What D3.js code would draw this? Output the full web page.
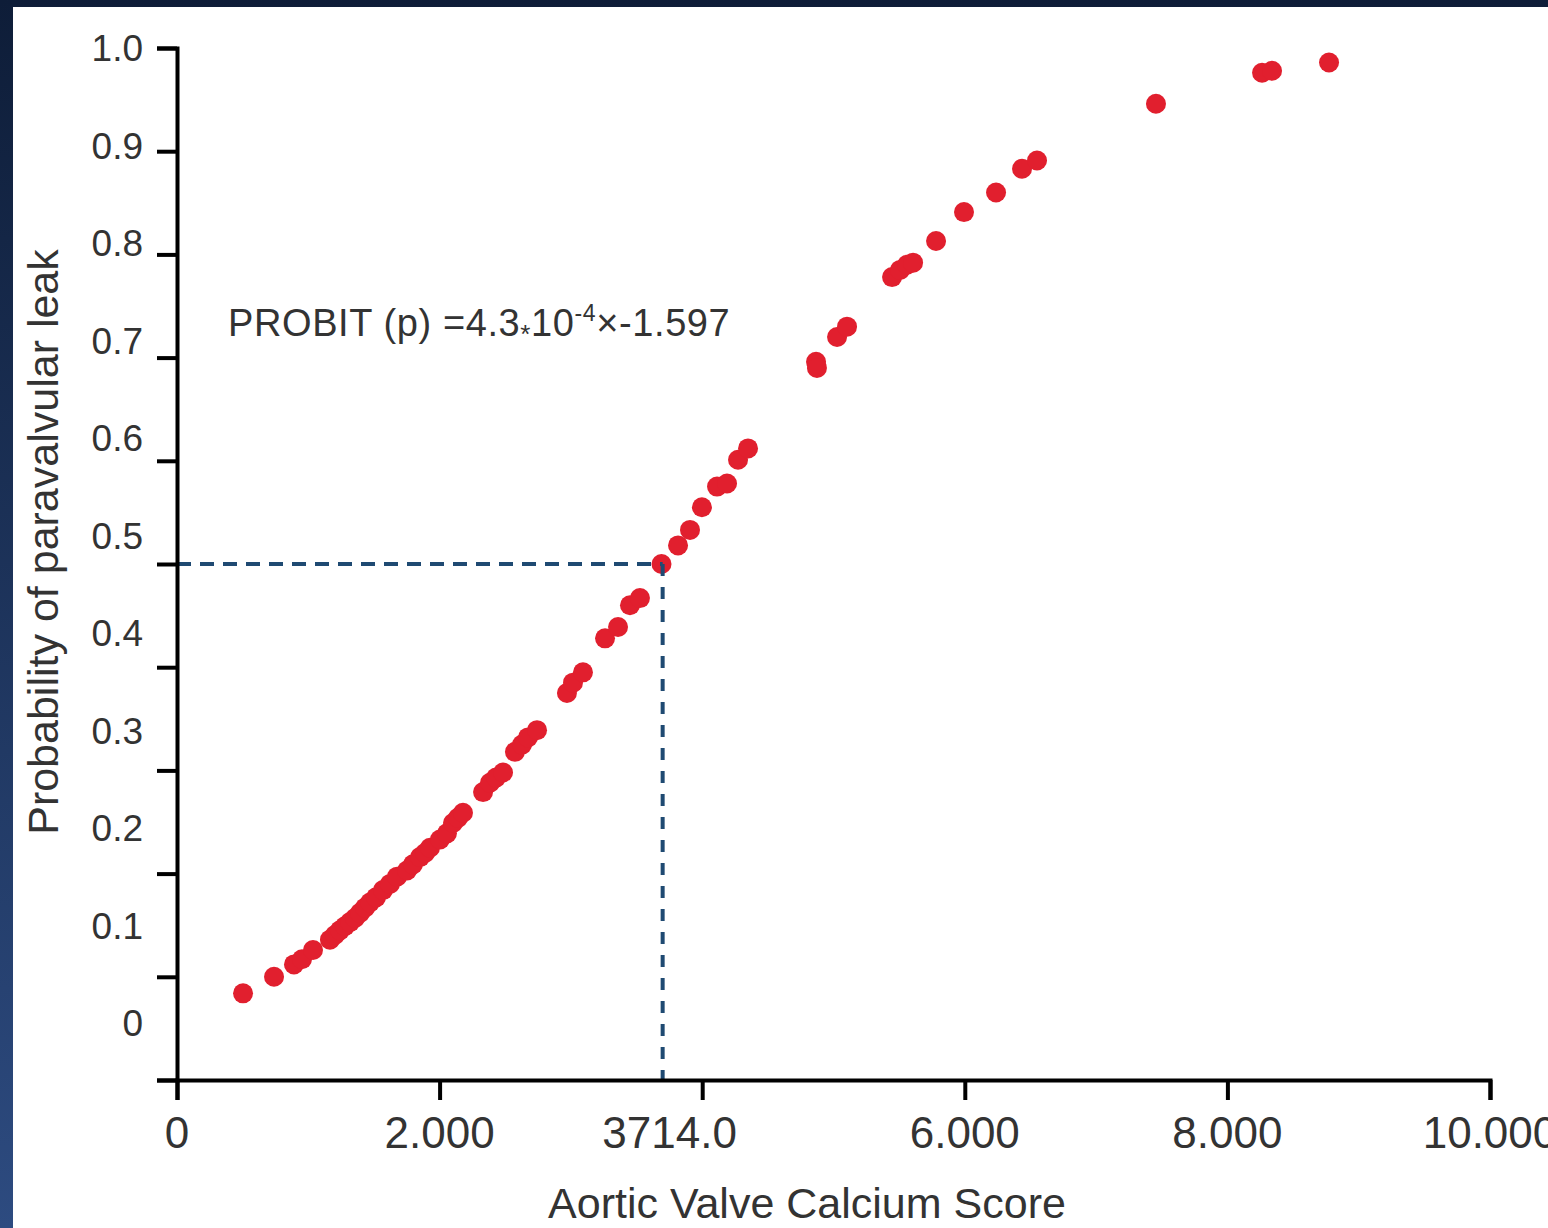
<!DOCTYPE html>
<html>
<head>
<meta charset="utf-8">
<script src="https://cdn.jsdelivr.net/npm/d3@7"></script>
<style>
  body { margin: 0; padding: 0; overflow: hidden; }
  svg { display: block; }
  text { font-family: "Liberation Sans", Arial, sans-serif; fill: #333; }
</style>
</head>
<body>
<div id="vis"></div>
<script>
// calcium score and probability
var calcium = [503, 739, 891, 952, 1036, 1165, 1203, 1241, 1279, 1318,
  1356, 1394, 1432, 1470, 1516, 1569, 1622, 1676, 1752, 1797,
  1851, 1889, 1927, 2003, 2056, 2102, 2140, 2178, 2331, 2384,
  2430, 2483, 2574, 2628, 2673, 2742, 2970, 3016, 3092, 3260,
  3359, 3450, 3526, 3690, 3816, 3907, 3998, 4113, 4189, 4273,
  4349, 4867, 4874, 5027, 5103, 5446, 5507, 5560, 5606, 5781,
  5994, 6238, 6436, 6550, 7456, 8264, 8340, 8774];
var prob = [0.084, 0.100, 0.112, 0.117, 0.126, 0.136, 0.1405, 0.145, 0.149, 0.153,
  0.157, 0.162, 0.167, 0.172, 0.177, 0.184, 0.190, 0.197, 0.203, 0.209,
  0.216, 0.220, 0.225, 0.233, 0.239, 0.249, 0.254, 0.259, 0.279, 0.288,
  0.293, 0.298, 0.318, 0.325, 0.332, 0.339, 0.375, 0.385, 0.395, 0.428,
  0.439, 0.460, 0.467, 0.500, 0.518, 0.533, 0.555, 0.575, 0.578, 0.601,
  0.612, 0.696, 0.690, 0.720, 0.730, 0.778, 0.785, 0.790, 0.792, 0.813,
  0.841, 0.860, 0.883, 0.891, 0.946, 0.976, 0.978, 0.986];

var xTicks = [0, 2000, 4000, 6000, 8000, 10000];
var xTickLabels = ["0", "2.000", "3714.0", "6.000", "8.000", "10.000"];
var xLabelAt = [0, 2000, 3714, 6000, 8000, 10000];
var yTicks = [0, 0.1, 0.2, 0.3, 0.4, 0.5, 0.6, 0.7, 0.8, 0.9, 1.0];
var yTickLabels = ["0", "0.1", "0.2", "0.3", "0.4", "0.5", "0.6", "0.7", "0.8", "0.9", "1.0"];
var cutoff = {x: 3714, p: 0.5};

var width = 1548, height = 1228;
var margin = {top: 48, right: 58, bottom: 148, left: 177};

var svg = d3.select("#vis").append("svg")
  .attr("width", width)
  .attr("height", height);

// dark frame + white panel
var grad = svg.append("defs").append("linearGradient")
  .attr("id", "frame").attr("x1", 0).attr("y1", 0).attr("x2", 0).attr("y2", 1);
grad.append("stop").attr("offset", "0%").attr("stop-color", "#0e1d38");
grad.append("stop").attr("offset", "100%").attr("stop-color", "#2d4b80");
svg.append("rect").attr("width", width).attr("height", height).attr("fill", "url(#frame)");
svg.append("rect").attr("x", 13).attr("y", 7).attr("width", width - 13).attr("height", height - 7).attr("fill", "#fff");

var xScale = d3.scaleLinear()
  .domain([0, 10000])
  .range([margin.left, width - margin.right]);

var yScale = d3.scaleLinear()
  .domain([0, 1])
  .range([height - margin.bottom, margin.top]);

// the tick labels in the figure drift upward from their ticks
var yLabelScale = d3.scaleLinear()
  .domain([0, 1])
  .range([1023, 48]);

// dots
svg.append("g")
  .selectAll("circle")
  .data(calcium)
  .enter().append("circle")
    .attr("cx", function(d) { return xScale(d); })
    .attr("cy", function(d, i) { return yScale(prob[i]); })
    .attr("r", 10)
    .attr("fill", "#e11f2e");

// cut-off lines
svg.append("line")
  .attr("x1", xScale(0)).attr("x2", xScale(cutoff.x) - 2)
  .attr("y1", yScale(cutoff.p)).attr("y2", yScale(cutoff.p))
  .attr("stroke", "#1f4a72").attr("stroke-width", 4)
  .attr("stroke-dasharray", "14,9");
svg.append("line")
  .attr("x1", xScale(cutoff.x) - 2).attr("x2", xScale(cutoff.x) - 2)
  .attr("y1", yScale(cutoff.p)).attr("y2", yScale(0))
  .attr("stroke", "#1f4a72").attr("stroke-width", 4)
  .attr("stroke-dasharray", "12,11");

// x axis
svg.append("g")
  .attr("transform", "translate(0," + yScale(0) + ")")
  .call(d3.axisBottom(xScale).tickValues(xTicks).tickSize(20).tickFormat(""));
// y axis
svg.append("g")
  .attr("transform", "translate(" + xScale(0) + ",0)")
  .call(d3.axisLeft(yScale).tickValues(yTicks).tickSize(20).tickFormat(""));

svg.selectAll(".domain, .tick line")
  .attr("stroke", "#000")
  .attr("stroke-width", 4);

// tick labels
svg.append("g").selectAll("text")
  .data(xTickLabels)
  .enter().append("text")
    .attr("x", function(d, i) { return xScale(xLabelAt[i]) + (i == 2 ? 5 : 0); })
    .attr("y", 1148)
    .attr("text-anchor", "middle")
    .style("font-size", "44px")
    .text(function(d) { return d; });

svg.append("g").selectAll("text")
  .data(yTickLabels)
  .enter().append("text")
    .attr("x", 143)
    .attr("y", function(d, i) { return yLabelScale(yTicks[i]); })
    .attr("dy", "0.36em")
    .attr("text-anchor", "end")
    .style("font-size", "37px")
    .text(function(d) { return d; });

// axis titles
svg.append("text")
  .attr("x", 807)
  .attr("y", 1218)
  .attr("text-anchor", "middle")
  .style("font-size", "43px")
  .text("Aortic Valve Calcium Score");

svg.append("text")
  .attr("transform", "translate(58,542) rotate(-90)")
  .attr("text-anchor", "middle")
  .style("font-size", "43px")
  .text("Probability of paravalvular leak");

// equation
var eq = svg.append("text")
  .attr("x", 228)
  .attr("y", 336)
  .style("font-size", "38px")
  .style("letter-spacing", "0.6px");
eq.append("tspan").text("PROBIT (p) =4.3");
eq.append("tspan").attr("dy", 7).style("font-size", "26px").text("*");
eq.append("tspan").attr("dy", -7).text("10");
eq.append("tspan").attr("dy", -15).style("font-size", "23px").text("-4");
eq.append("tspan").attr("dy", 15).text("\u00D7-1.597");
</script>
</body>
</html>
